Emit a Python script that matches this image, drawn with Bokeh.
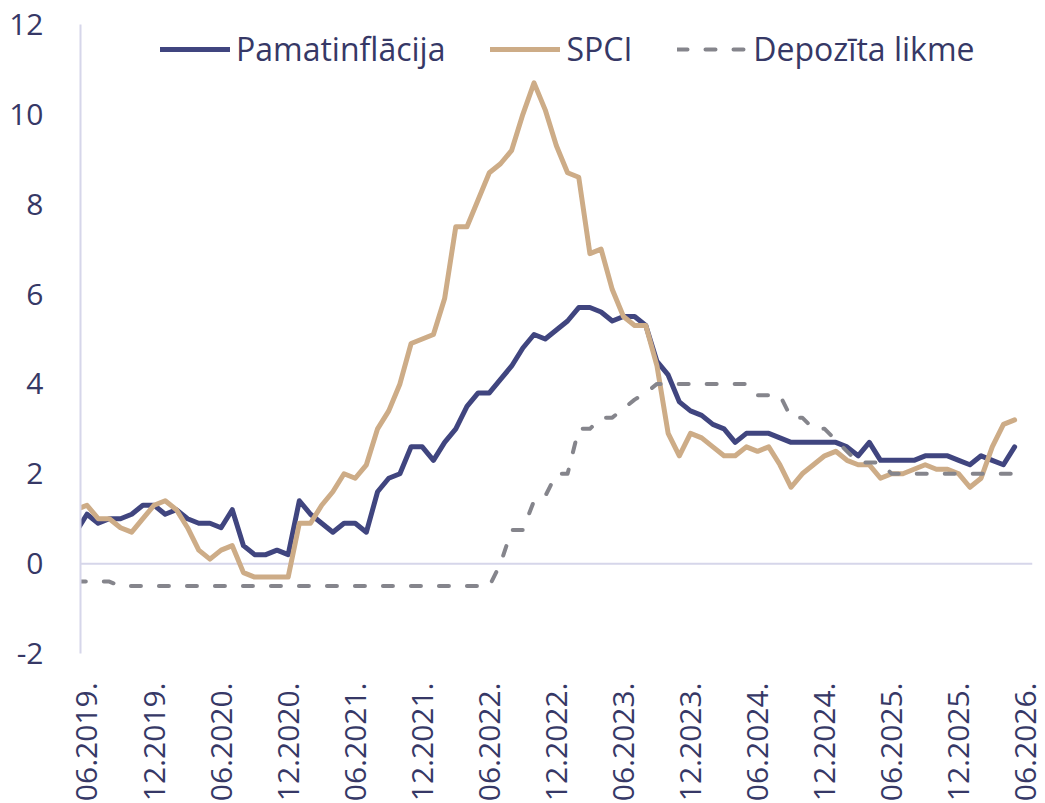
import math
from bokeh.plotting import figure
from bokeh.models import Range1d, FixedTicker, Span, Legend, LegendItem
from bokeh.embed import file_html
from bokeh.resources import INLINE

# month index: 0 = 06.2019, -1 = 05.2019 (clipped at the axis), 83 = 05.2026
month_index = list(range(-1, 84))

pamatinflacija = [
    0.7, 1.1, 0.9, 1.0, 1.0, 1.1, 1.3, 1.3, 1.1, 1.2, 1.0, 0.9, 0.9, 0.8, 1.2, 0.4,
    0.2, 0.2, 0.3, 0.2, 1.4, 1.1, 0.9, 0.7, 0.9, 0.9, 0.7, 1.6, 1.9, 2.0, 2.6, 2.6,
    2.3, 2.7, 3.0, 3.5, 3.8, 3.8, 4.1, 4.4, 4.8, 5.1, 5.0, 5.2, 5.4, 5.7, 5.7, 5.6,
    5.4, 5.5, 5.5, 5.3, 4.5, 4.2, 3.6, 3.4, 3.3, 3.1, 3.0, 2.7, 2.9, 2.9, 2.9, 2.8,
    2.7, 2.7, 2.7, 2.7, 2.7, 2.6, 2.4, 2.7, 2.3, 2.3, 2.3, 2.3, 2.4, 2.4, 2.4, 2.3,
    2.2, 2.4, 2.3, 2.2, 2.6,
]

spci = [
    1.2, 1.3, 1.0, 1.0, 0.8, 0.7, 1.0, 1.3, 1.4, 1.2, 0.8, 0.3, 0.1, 0.3, 0.4, -0.2,
    -0.3, -0.3, -0.3, -0.3, 0.9, 0.9, 1.3, 1.6, 2.0, 1.9, 2.2, 3.0, 3.4, 4.0, 4.9, 5.0,
    5.1, 5.9, 7.5, 7.5, 8.1, 8.7, 8.9, 9.2, 10.0, 10.7, 10.1, 9.3, 8.7, 8.6, 6.9, 7.0,
    6.1, 5.5, 5.3, 5.3, 4.4, 2.9, 2.4, 2.9, 2.8, 2.6, 2.4, 2.4, 2.6, 2.5, 2.6, 2.2,
    1.7, 2.0, 2.2, 2.4, 2.5, 2.3, 2.2, 2.2, 1.9, 2.0, 2.0, 2.1, 2.2, 2.1, 2.1, 2.0,
    1.7, 1.9, 2.6, 3.1, 3.2,
]

depozita_likme = [
    -0.4, -0.4, -0.4, -0.4, -0.5, -0.5, -0.5, -0.5, -0.5, -0.5, -0.5, -0.5, -0.5, -0.5, -0.5, -0.5,
    -0.5, -0.5, -0.5, -0.5, -0.5, -0.5, -0.5, -0.5, -0.5, -0.5, -0.5, -0.5, -0.5, -0.5, -0.5, -0.5,
    -0.5, -0.5, -0.5, -0.5, -0.5, -0.5, 0.0, 0.75, 0.75, 1.4, 1.5, 2.0, 2.0, 3.0, 3.0, 3.25,
    3.25, 3.45, 3.65, 3.8, 4.0, 4.0, 4.0, 4.0, 4.0, 4.0, 4.0, 4.0, 4.0, 3.75, 3.75, 3.75,
    3.25, 3.25, 3.0, 3.0, 2.75, 2.5, 2.25, 2.25, 2.25, 2.0, 2.0, 2.0, 2.0, 2.0, 2.0, 2.0,
    2.0, 2.0, 2.0, 2.0, 2.0,
]

tick_positions = [0, 6, 12, 18, 24, 30, 36, 42, 48, 54, 60, 66, 72, 78, 84]
tick_labels = ["06.2019.", "12.2019.", "06.2020.", "12.2020.", "06.2021.", "12.2021.",
               "06.2022.", "12.2022.", "06.2023.", "12.2023.", "06.2024.", "12.2024.",
               "06.2025.", "12.2025.", "06.2026."]
y_ticks = [-2, 0, 2, 4, 6, 8, 10, 12]
y_tick_labels = ["-2", "0", "2", "4", "6", "8", "10", "12"]

series_names = ["Pamatinflācija", "SPCI", "Depozīta likme"]

TEXT = "#363866"
AXIS = "#d6d6ea"
BLUE = "#40457f"
TAN = "#cdac87"
GREY = "#85858c"
FONT = "Open Sans"

p = figure(
    frame_width=952, frame_height=629,
    min_border_left=80, min_border_top=24, min_border_right=13, min_border_bottom=0,
    x_range=Range1d(-0.58, 84.6), y_range=Range1d(-2, 12),
    output_backend="svg", toolbar_location=None,
    background_fill_color="white", border_fill_color="white",
)
p.outline_line_color = None
p.xgrid.visible = False
p.ygrid.visible = False

# zero line (category axis crossing)
p.add_layout(Span(location=0, dimension="width", line_color=AXIS, line_width=2, level="underlay"))

r1 = p.line(month_index, pamatinflacija, line_color=BLUE, line_width=5, line_join="round", line_cap="round")
r2 = p.line(month_index, spci, line_color=TAN, line_width=5, line_join="round", line_cap="round")
r3 = p.line(month_index, depozita_likme, line_color=GREY, line_width=4, line_dash="10 18",
            line_join="round", line_cap="round")

# y axis
ya = p.yaxis[0]
ya.ticker = FixedTicker(ticks=y_ticks)
ya.major_label_overrides = {t: l for t, l in zip(y_ticks, y_tick_labels)}
ya.axis_line_color = AXIS
ya.axis_line_width = 2
ya.major_tick_line_color = None
ya.minor_tick_line_color = None
ya.major_label_standoff = 31
ya.major_label_text_font = FONT
ya.major_label_text_font_size = "30px"
ya.major_label_text_color = TEXT

# x axis
xa = p.xaxis[0]
xa.ticker = FixedTicker(ticks=tick_positions)
xa.major_label_overrides = {t: l for t, l in zip(tick_positions, tick_labels)}
xa.major_label_orientation = math.pi / 2
xa.axis_line_color = None
xa.major_tick_line_color = None
xa.minor_tick_line_color = None
xa.major_label_standoff = 23
xa.major_label_text_font = FONT
xa.major_label_text_font_size = "30px"
xa.major_label_text_color = TEXT

legend = Legend(
    items=[LegendItem(label=series_names[0], renderers=[r1]),
           LegendItem(label=series_names[1], renderers=[r2]),
           LegendItem(label=series_names[2], renderers=[r3])],
    orientation="horizontal",
    location=(80, 583),
    glyph_width=70, glyph_height=38, label_height=38,
    label_standoff=6, spacing=45, padding=0, margin=0,
    label_text_font=FONT, label_text_font_size="32px", label_text_color=TEXT,
    border_line_color=None, background_fill_alpha=0,
)
p.add_layout(legend)

open("out.html", "w").write(file_html(p, INLINE))
